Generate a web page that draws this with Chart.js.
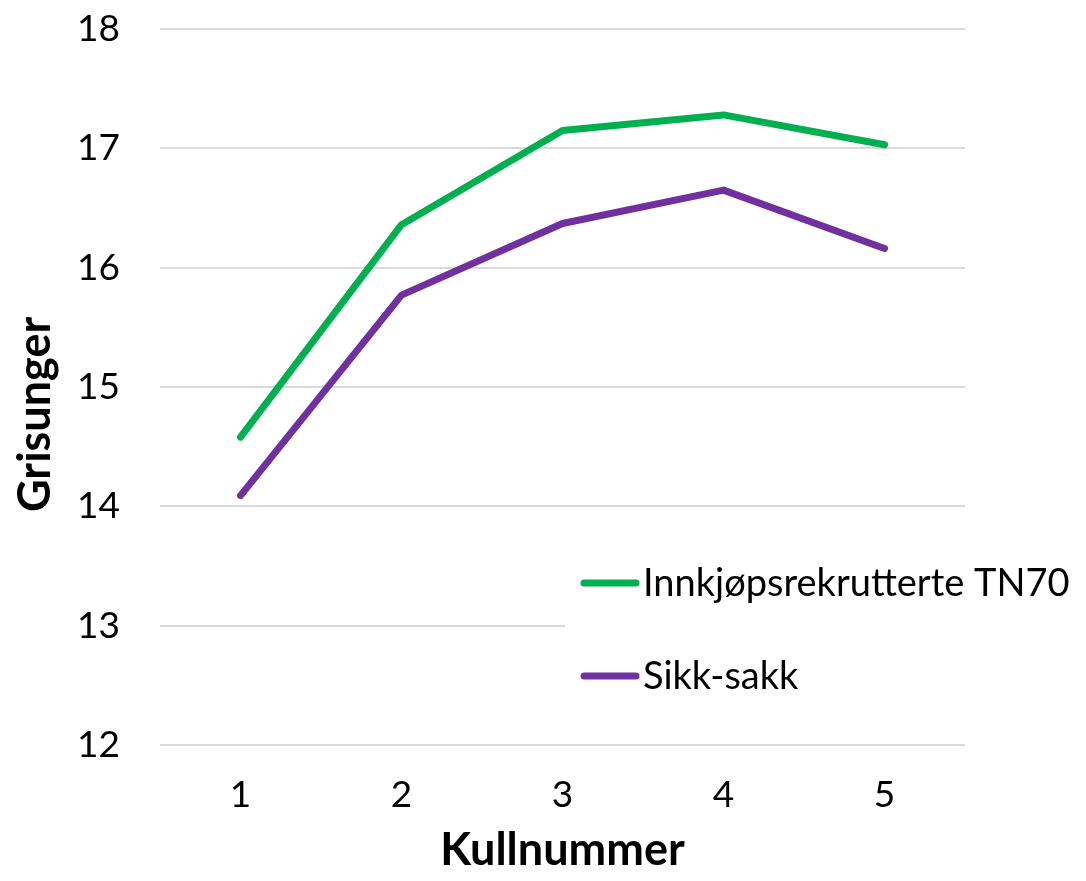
<!DOCTYPE html>
<html>
<head>
<meta charset="utf-8">
<script src="https://cdn.jsdelivr.net/npm/chart.js@4/dist/chart.umd.min.js"></script>
<style>
  html, body { margin: 0; padding: 0; background: #fff; }
  #wrap { width: 1086px; height: 881px; }
</style>
</head>
<body>
<div id="wrap"><canvas id="grafico"></canvas></div>
<script>
const kull = ['1', '2', '3', '4', '5'];
const innkjop = [14.58, 16.36, 17.15, 17.28, 17.03];
const sikkSakk = [14.09, 15.77, 16.37, 16.65, 16.16];

const fonte = 'Lato, "Open Sans", sans-serif';

// legend placed inside the plot, like the original
const legendeInne = {
    id: 'legendeInne',
    afterDraw(chart) {
        const ctx = chart.ctx;
        ctx.save();
        ctx.fillStyle = '#fff';
        ctx.fillRect(565, 545, 521, 170);
        const rader = [583, 676];
        chart.data.datasets.forEach((ds, i) => {
            const y = rader[i];
            ctx.strokeStyle = ds.borderColor;
            ctx.lineWidth = 7;
            ctx.lineCap = 'round';
            ctx.beginPath();
            ctx.moveTo(584, y);
            ctx.lineTo(636, y);
            ctx.stroke();
            ctx.fillStyle = '#000';
            ctx.font = '38px ' + fonte;
            ctx.textBaseline = 'middle';
            ctx.textAlign = 'left';
            ctx.fillText(ds.label, 643, y + 1);
        });
        ctx.restore();
    }
};

const $grafico = document.getElementById('grafico');
const graficoGris = new Chart($grafico, {
    type: 'line',
    data: {
        labels: kull,
        datasets: [{
            label: 'Innkjøpsrekrutterte TN70',
            data: innkjop,
            borderColor: '#00B050',
            borderWidth: 7,
            pointRadius: 0,
            borderCapStyle: 'round',
            borderJoinStyle: 'round',
            tension: 0
        }, {
            label: 'Sikk-sakk',
            data: sikkSakk,
            borderColor: '#7030A0',
            borderWidth: 7,
            pointRadius: 0,
            borderCapStyle: 'round',
            borderJoinStyle: 'round',
            tension: 0
        }]
    },
    options: {
        responsive: true,
        maintainAspectRatio: false,
        animation: false,
        layout: { padding: { top: 29, right: 121, left: 0, bottom: 0 } },
        plugins: {
            legend: { display: false },
            tooltip: { enabled: false }
        },
        scales: {
            x: {
                offset: true,
                grid: { display: false, drawTicks: false },
                border: { display: false },
                ticks: { color: '#000', font: { family: fonte, size: 37 }, padding: 28 },
                title: {
                    display: true,
                    text: 'Kullnummer',
                    color: '#000',
                    font: { family: fonte, size: 45, weight: 'bold' },
                    padding: { top: 10 }
                },
                afterFit(scale) { scale.height = 136; }
            },
            y: {
                min: 12,
                max: 18,
                grid: { color: '#d9d9d9', lineWidth: 2, drawTicks: false },
                border: { display: false },
                ticks: { stepSize: 1, color: '#000', font: { family: fonte, size: 37 }, padding: 40 },
                title: {
                    display: true,
                    // trailing spaces nudge the rotated title down a bit, as in the original
                    text: 'Grisunger     ',
                    color: '#000',
                    font: { family: fonte, size: 45, weight: 'bold' },
                    padding: { top: 8, bottom: 0 }
                },
                afterFit(scale) {
                    scale.width = 160;
                    scale.paddingTop = 0;
                    scale.paddingBottom = 0;
                }
            }
        }
    },
    plugins: [legendeInne]
});
</script>
</body>
</html>
